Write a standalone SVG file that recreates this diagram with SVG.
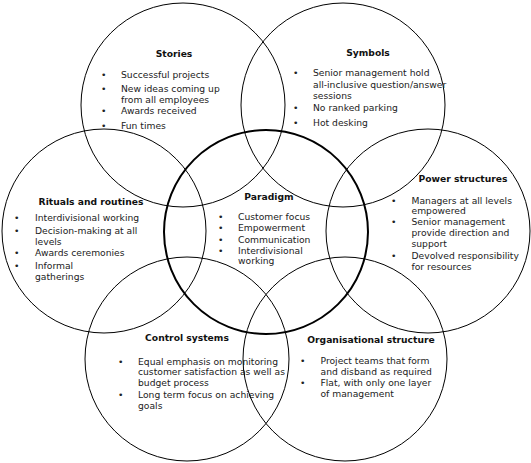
<svg xmlns="http://www.w3.org/2000/svg" width="531" height="463" viewBox="0 0 531 463">
<style>
.c{fill:none;stroke:#000;stroke-width:1}
.p{fill:none;stroke:#000;stroke-width:2}
text{font-family:"DejaVu Sans","Verdana",sans-serif;font-size:9.2px;fill:#222}
.t{font-weight:bold;text-anchor:middle;fill:#111}
</style>
<rect width="531" height="463" fill="#fff"/>
<g id="stories">
<circle class="c" cx="183" cy="105" r="102"/>
<text class="t" x="174" y="57">Stories</text>
<text x="101" y="77.5">•</text><text x="121" y="77.5">Successful projects</text>
<text x="101" y="91.5">•</text><text x="121" y="91.5">New ideas coming up</text>
<text x="121" y="102.5">from all employees</text>
<text x="101" y="114">•</text><text x="121" y="114">Awards received</text>
<text x="101" y="128.5">•</text><text x="121" y="128.5">Fun times</text>
</g>
<g id="symbols">
<circle class="c" cx="343" cy="105" r="102"/>
<text class="t" x="368" y="56">Symbols</text>
<text x="293" y="76">•</text><text x="313" y="76">Senior management hold</text>
<text x="313" y="87.5">all-inclusive question/answer</text>
<text x="313" y="98.5">sessions</text>
<text x="293" y="110.5">•</text><text x="313" y="110.5">No ranked parking</text>
<text x="293" y="126">•</text><text x="313" y="126">Hot desking</text>
</g>
<g id="rituals">
<circle class="c" cx="104" cy="231" r="102"/>
<text class="t" x="91" y="204.5">Rituals and routines</text>
<text x="14" y="221">•</text><text x="35" y="221">Interdivisional working</text>
<text x="14" y="233.5">•</text><text x="35" y="233.5">Decision-making at all</text>
<text x="35" y="244.5">levels</text>
<text x="14" y="255.5">•</text><text x="35" y="255.5">Awards ceremonies</text>
<text x="14" y="268.5">•</text><text x="35" y="268.5">Informal</text>
<text x="35" y="279.5">gatherings</text>
</g>
<g id="power">
<circle class="c" cx="428" cy="231" r="102"/>
<text class="t" x="463" y="182">Power structures</text>
<text x="391" y="203.5">•</text><text x="411.5" y="203.5">Managers at all levels</text>
<text x="411.5" y="214">empowered</text>
<text x="391" y="225">•</text><text x="411.5" y="225">Senior management</text>
<text x="411.5" y="236">provide direction and</text>
<text x="411.5" y="246.5">support</text>
<text x="391" y="258.5">•</text><text x="411.5" y="258.5">Devolved responsibility</text>
<text x="411.5" y="269.5">for resources</text>
</g>
<g id="control">
<circle class="c" cx="187" cy="359" r="102"/>
<text class="t" x="187" y="341">Control systems</text>
<text x="118" y="364.5">•</text><text x="138" y="364.5">Equal emphasis on monitoring</text>
<text x="138" y="375">customer satisfaction as well as</text>
<text x="138" y="385.5">budget process</text>
<text x="118" y="397.5">•</text><text x="138" y="397.5">Long term focus on achieving</text>
<text x="138" y="408.5">goals</text>
</g>
<g id="organisational">
<circle class="c" cx="345" cy="359" r="102"/>
<text class="t" x="371" y="342.5">Organisational structure</text>
<text x="300" y="364">•</text><text x="320.5" y="364">Project teams that form</text>
<text x="320.5" y="374.5">and disband as required</text>
<text x="300" y="386">•</text><text x="320.5" y="386">Flat, with only one layer</text>
<text x="320.5" y="396.5">of management</text>
</g>
<g id="paradigm">
<circle class="p" cx="266" cy="232" r="102"/>
<text class="t" x="269" y="200">Paradigm</text>
<text x="218" y="220">•</text><text x="238" y="220">Customer focus</text>
<text x="218" y="231">•</text><text x="238" y="231">Empowerment</text>
<text x="218" y="242.5">•</text><text x="238" y="242.5">Communication</text>
<text x="218" y="253.5">•</text><text x="238" y="253.5">Interdivisional</text>
<text x="238" y="264">working</text>
</g>
<g id="connectors"></g>
</svg>
